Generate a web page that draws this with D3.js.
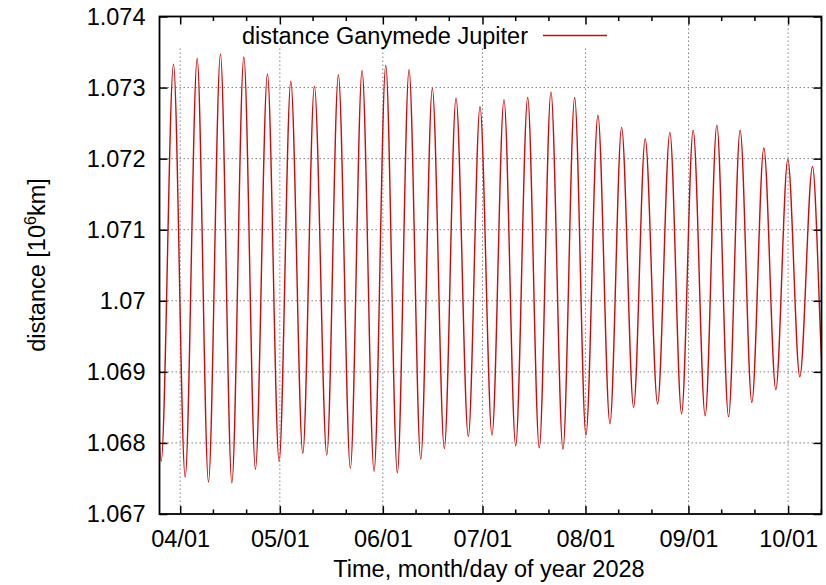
<!DOCTYPE html>
<html>
<head>
<meta charset="utf-8">
<script src="https://cdn.jsdelivr.net/npm/d3@7"></script>
<style>
  html, body { margin: 0; padding: 0; background: #fff; }
  svg { display: block; font-family: "Liberation Sans", Arial, Helvetica, sans-serif; }
</style>
</head>
<body>
<svg id="chart" width="826" height="585"></svg>
<script>
// ---- data ----
// days since 2028-04-01 00:00 UTC of each maximum / minimum, and distances [10^6 km]
const peakDay = [-9.24, -2.02, 5.11, 12.12, 19.16, 26.26, 33.30, 40.40, 47.62, 54.75, 61.88, 68.89,
  75.90, 83.03, 90.25, 97.47, 104.60, 111.61, 118.74, 125.75, 132.88, 139.98, 147.41, 154.42,
  161.55, 168.56, 175.69, 182.91, 190.34, 197.40];
const peakDist = [1.07320, 1.07333, 1.07341, 1.07347, 1.07343, 1.07319, 1.07309, 1.07302, 1.07318,
  1.07324, 1.07331, 1.07325, 1.07299, 1.07285, 1.07273, 1.07283, 1.07286, 1.07294, 1.07286,
  1.07261, 1.07244, 1.07228, 1.07237, 1.07240, 1.07247, 1.07240, 1.07215, 1.07199, 1.07189,
  1.07180];
const troughDay = [-12.80, -5.72, 1.50, 8.51, 15.55, 22.65, 29.78, 36.91, 44.13, 51.23, 58.36, 65.37,
  72.41, 79.51, 86.73, 93.86, 100.99, 108.09, 115.22, 122.14, 129.36, 136.49, 143.71, 150.93,
  158.03, 165.07, 172.08, 179.30, 186.52, 193.90];
const troughDist = [1.06770, 1.06774, 1.06752, 1.06745, 1.06744, 1.06763, 1.06774, 1.06785, 1.06783,
  1.06764, 1.06760, 1.06758, 1.06777, 1.06792, 1.06809, 1.06811, 1.06796, 1.06793, 1.06791,
  1.06811, 1.06827, 1.06850, 1.06855, 1.06841, 1.06838, 1.06837, 1.06857, 1.06875, 1.06893,
  1.06874];

const xTickMonths = ["2028-04-01", "2028-05-01", "2028-06-01", "2028-07-01", "2028-08-01", "2028-09-01", "2028-10-01"];
const xTickLabels = ["04/01", "05/01", "06/01", "07/01", "08/01", "09/01", "10/01"];
const yTicks = [1.067, 1.068, 1.069, 1.070, 1.071, 1.072, 1.073, 1.074];
const yTickLabels = ["1.067", "1.068", "1.069", "1.07", "1.071", "1.072", "1.073", "1.074"];
const xDomainDays = [-6.23, 193.05];
const seriesName = "distance Ganymede Jupiter";

// ---- layout ----
const W = 826, H = 585;
const margin = { left: 159.5, right: 4.5, top: 16.5, bottom: 71 };
const iw = W - margin.left - margin.right;
const ih = H - margin.top - margin.bottom;
const FONT = 23.5;
const base = Date.UTC(2028, 3, 1);
const dayToDate = d => new Date(base + d * 86400000);

const svg = d3.select("#chart");
const g = svg.append("g").attr("transform", `translate(${margin.left},${margin.top})`);

const x = d3.scaleUtc().domain(xDomainDays.map(dayToDate)).range([0, iw]);
const y = d3.scaleLinear().domain([1.067, 1.074]).range([ih, 0]);

const majorDates = xTickMonths.map(s => new Date(s + "T00:00:00Z"));
const minorDates = [];
d3.utcMonth.range(new Date(Date.UTC(2028, 2, 1)), new Date(Date.UTC(2028, 10, 1))).forEach(m => {
  [10, 20].forEach(k => {
    const d = new Date(m.getTime() + k * 86400000);
    if (d >= x.domain()[0] && d <= x.domain()[1]) minorDates.push(d);
  });
});

// ---- grid ----
const gridStyle = sel => sel.attr("stroke", "#808080").attr("stroke-width", 1)
  .attr("stroke-dasharray", "1.5,2.5").attr("fill", "none");
g.append("g").selectAll("line").data(yTicks.slice(1, -1)).join("line")
  .attr("x1", 0).attr("x2", iw).attr("y1", d => y(d)).attr("y2", d => y(d)).call(gridStyle);
g.append("g").selectAll("line").data(majorDates).join("line")
  .attr("x1", d => x(d)).attr("x2", d => x(d)).attr("y1", 0).attr("y2", ih).call(gridStyle);

// opaque key background
g.append("rect").attr("x", 4).attr("y", 1).attr("width", 462).attr("height", 29).attr("fill", "#fff");

// ---- series ----
const pts = [];
peakDay.forEach((d, i) => pts.push({ t: dayToDate(d), v: peakDist[i] }));
troughDay.forEach((d, i) => pts.push({ t: dayToDate(d), v: troughDist[i] }));
pts.sort((a, b) => a.t - b.t);

svg.append("defs").append("clipPath").attr("id", "clip")
  .append("rect").attr("x", 0).attr("y", 0).attr("width", iw).attr("height", ih);

const line = d3.line().x(d => x(d.t)).y(d => y(d.v)).curve(d3.curveMonotoneX);
g.append("path").datum(pts).attr("clip-path", "url(#clip)")
  .attr("d", line).attr("fill", "none").attr("stroke", "#cc0a0a").attr("stroke-width", 1.4);

// ---- axes (gnuplot style, inward ticks, mirrored) ----
const axB = d3.axisBottom(x).tickValues(majorDates).tickFormat((d, i) => xTickLabels[i])
  .tickSizeInner(-8).tickSizeOuter(0).tickPadding(16);
const axT = d3.axisTop(x).tickValues(majorDates).tickFormat("").tickSizeInner(-8).tickSizeOuter(0);
const axL = d3.axisLeft(y).tickValues(yTicks).tickFormat((d, i) => yTickLabels[i])
  .tickSizeInner(-8).tickSizeOuter(0).tickPadding(14);
const axR = d3.axisRight(y).tickValues(yTicks).tickFormat("").tickSizeInner(-8).tickSizeOuter(0);

const styleAxis = sel => {
  sel.select(".domain").remove();
  sel.selectAll(".tick line").attr("stroke", "#000").attr("stroke-width", 1.5);
  sel.selectAll("text").attr("fill", "#000").style("font-size", FONT + "px")
    .style("font-family", '"Liberation Sans", Arial, sans-serif');
};
g.append("g").attr("transform", `translate(0,${ih})`).call(axB).call(styleAxis);
g.append("g").call(axT).call(styleAxis);
g.append("g").call(axL).call(styleAxis);
g.append("g").attr("transform", `translate(${iw},0)`).call(axR).call(styleAxis);

// minor x ticks (bottom and top)
g.append("g").selectAll("line").data(minorDates).join("line")
  .attr("x1", d => x(d)).attr("x2", d => x(d)).attr("y1", ih).attr("y2", ih - 4.5)
  .attr("stroke", "#000").attr("stroke-width", 1.5);
g.append("g").selectAll("line").data(minorDates).join("line")
  .attr("x1", d => x(d)).attr("x2", d => x(d)).attr("y1", 0).attr("y2", 4.5)
  .attr("stroke", "#000").attr("stroke-width", 1.5);

// frame
g.append("rect").attr("x", 0).attr("y", 0).attr("width", iw).attr("height", ih)
  .attr("fill", "none").attr("stroke", "#000").attr("stroke-width", 1.8);

// ---- key ----
const keyTextX = 528 - margin.left, keyY = 35.5 - margin.top;
g.append("text").attr("x", keyTextX).attr("y", keyY + 8).attr("text-anchor", "end")
  .style("font-size", FONT + "px").attr("fill", "#000").text(seriesName);
g.append("line").attr("x1", 543 - margin.left).attr("x2", 607 - margin.left)
  .attr("y1", keyY).attr("y2", keyY).attr("stroke", "#cc0a0a").attr("stroke-width", 1.4);

// ---- axis titles ----
svg.append("text").attr("x", 489).attr("y", 577).attr("text-anchor", "middle")
  .style("font-size", FONT + "px").attr("fill", "#000").text("Time, month/day of year 2028");

const yt = svg.append("text").attr("transform", "translate(45,265) rotate(-90)")
  .attr("text-anchor", "middle").style("font-size", FONT + "px").attr("fill", "#000");
yt.append("tspan").text("distance [10");
yt.append("tspan").attr("dy", -9).style("font-size", "16px").text("6");
yt.append("tspan").attr("dy", 9).text("km]");
</script>
</body>
</html>
